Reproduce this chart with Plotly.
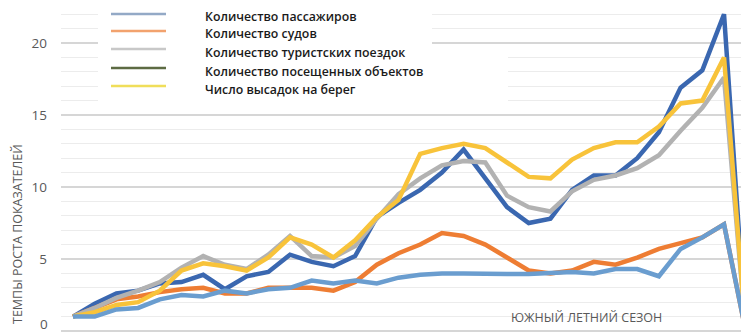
import plotly.graph_objects as go

# ---- data ----
periods = list(range(1, 33))

passengers = [1.0, 1.9, 2.6, 2.8, 3.3, 3.4, 3.9, 2.9, 3.8, 4.1, 5.3, 4.8, 4.5, 5.2, 7.9, 8.9,
              9.8, 11.0, 12.6, 10.6, 8.6, 7.5, 7.8, 9.8, 10.8, 10.8, 12.0, 13.8, 16.9, 18.1, 22.0, 0]
ships = [1.0, 1.6, 2.2, 2.4, 2.7, 2.9, 3.0, 2.6, 2.6, 3.0, 3.0, 3.0, 2.8, 3.4, 4.6, 5.4,
         6.0, 6.8, 6.6, 6.0, 5.1, 4.2, 4.0, 4.2, 4.8, 4.6, 5.1, 5.7, 6.1, 6.5, 7.4, 0]
trips = [1.0, 1.6, 2.3, 2.8, 3.4, 4.4, 5.2, 4.6, 4.3, 5.3, 6.6, 5.2, 5.1, 5.9, 7.8, 9.5,
         10.6, 11.5, 11.8, 11.7, 9.4, 8.6, 8.3, 9.7, 10.5, 10.8, 11.3, 12.2, 13.9, 15.5, 17.6, 0]
landings = [1.0, 1.3, 1.8, 2.0, 2.8, 4.2, 4.7, 4.5, 4.2, 5.1, 6.5, 6.0, 5.1, 6.3, 7.9, 9.1,
            12.3, 12.7, 13.0, 12.7, 11.7, 10.7, 10.6, 11.9, 12.7, 13.1, 13.1, 14.2, 15.8, 16.0, 19.0, 0]
objects = [1.0, 1.0, 1.5, 1.6, 2.2, 2.5, 2.4, 2.8, 2.6, 2.9, 3.0, 3.5, 3.3, 3.5, 3.3, 3.7,
           3.9, 4.0, 4.0, 3.95, 3.95, 3.95, 4.0, 4.1, 4.0, 4.3, 4.3, 3.8, 5.7, 6.5, 7.4, 0]

legend_names = ["Количество пассажиров", "Количество судов", "Количество туристских поездок",
                "Количество посещенных объектов", "Число высадок на берег"]
y_ticks = [0, 5, 10, 15, 20]
y_title = "ТЕМПЫ РОСТА ПОКАЗАТЕЛЕЙ"
x_title = "ЮЖНЫЙ ЛЕТНИЙ СЕЗОН"

# ---- styles ----
W, H = 749, 332
ML, MR, MT, MB = 53, 0, 0, 6
PW, PH = W - ML - MR, H - MT - MB

def px(x):
    return (x - ML) / PW

def py(y):
    return (H - MB - y) / PH

series = [
    (passengers, "#3a67b0"),
    (ships, "#ee7d33"),
    (trips, "#b2b2b2"),
    (landings, "#f8c33a"),
    (objects, "#6a9dcf"),
]
legend_colors = ["#93a9c6", "#f2a26e", "#c8c8c8", "#5d6b43", "#f0de5a"]
tick_font = dict(family="Open Sans", size=13.5, color="#595959")

fig = go.Figure()
for vals, col in series:
    fig.add_trace(go.Scatter(x=periods, y=vals, mode="lines",
                             line=dict(color=col, width=4.5), showlegend=False))

shapes = []
annotations = []
# white legend background
shapes.append(dict(type="rect", xref="paper", yref="paper", x0=px(90), x1=px(424), y0=py(40), y1=py(0),
                   fillcolor="white", line=dict(width=0), layer="above"))
shapes.append(dict(type="rect", xref="paper", yref="paper", x0=px(90), x1=px(500), y0=py(100), y1=py(40),
                   fillcolor="white", line=dict(width=0), layer="above"))
row_y = [9, 26, 44, 63, 81]
for name, col, ry in zip(legend_names, legend_colors, row_y):
    shapes.append(dict(type="line", xref="paper", yref="paper", x0=px(103), x1=px(158), y0=py(ry - 3), y1=py(ry - 3),
                       line=dict(color=col, width=2.5), layer="above"))
    annotations.append(dict(text=name, xref="paper", yref="paper", x=px(195), y=py(ry), xanchor="left",
                            yanchor="middle", showarrow=False,
                            font=dict(family="Open Sans", size=12.3, color="#1a1a1a", weight=600)))

# bottom tick label "0" placed so that it stays inside the picture
annotations.append(dict(text=str(y_ticks[0]), xref="paper", yref="paper", x=px(41), y=py(326),
                        xanchor="right", yanchor="bottom", showarrow=False, borderpad=0, font=tick_font))
annotations.append(dict(text=y_title, xref="paper", yref="paper", x=px(9), y=py(226), textangle=-90,
                        xanchor="center", yanchor="middle", showarrow=False,
                        font=dict(family="Open Sans", size=12.5, color="#595959")))
annotations.append(dict(text=x_title, xref="paper", yref="paper", x=px(578), y=py(309),
                        xanchor="center", yanchor="middle", showarrow=False,
                        font=dict(family="Open Sans", size=12.5, color="#595959")))

fig.update_layout(
    width=W, height=H,
    margin=dict(l=ML, r=MR, t=MT, b=MB, pad=0),
    paper_bgcolor="white", plot_bgcolor="white",
    showlegend=False,
    shapes=shapes, annotations=annotations,
    xaxis=dict(range=[0.447, 32.52], showticklabels=False, showgrid=False, zeroline=False,
               showline=False, ticks=""),
    yaxis=dict(range=[-0.21, 22.43], tickvals=y_ticks[1:], showgrid=True, gridcolor="#d6d6d6", gridwidth=1.5,
               zeroline=True, zerolinecolor="#d6d6d6", zerolinewidth=1.5,
               showline=False, ticks="", ticklabelstandoff=13,
               tickfont=tick_font,
               minor=dict(dtick=1, tick0=0, showgrid=True, gridcolor="#ececec", gridwidth=1)),
)

fig.write_html("out.html")
